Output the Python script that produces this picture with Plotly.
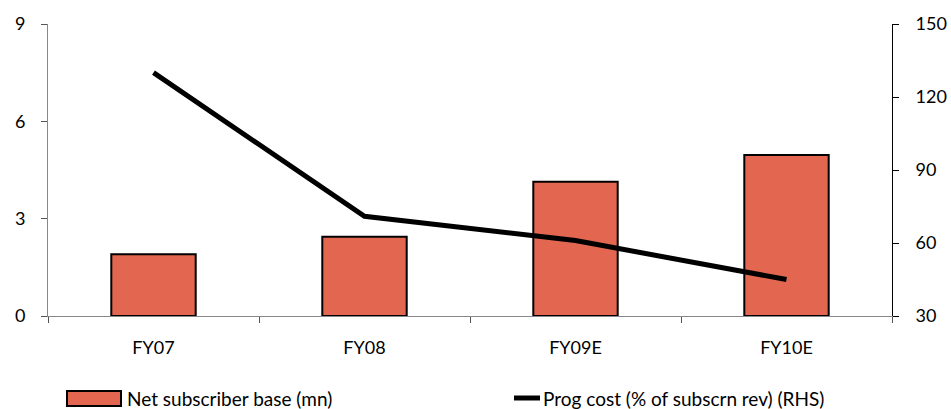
import plotly.graph_objects as go

categories = ["FY07", "FY08", "FY09E", "FY10E"]
subscribers_mn = [1.90, 2.44, 4.14, 4.96]
prog_cost_pct = [130, 71, 61, 45]
left_ticks = [0, 3, 6, 9]
right_ticks = [30, 60, 90, 120, 150]

BAR_COLOR = "#E36650"
FONT = "Lato"

fig = go.Figure()
fig.add_trace(go.Bar(
    x=categories, y=subscribers_mn, name="Net subscriber base (mn)",
    marker=dict(color=BAR_COLOR, line=dict(color="black", width=2)),
    width=0.40, showlegend=False,
))
fig.add_trace(go.Scatter(
    x=categories, y=prog_cost_pct, name="Prog cost (% of subscrn rev) (RHS)",
    mode="lines", line=dict(color="black", width=5), yaxis="y2", showlegend=False,
))

# legend keys drawn as paper-space shapes with text beside them
fig.add_shape(type="rect", xref="paper", yref="paper",
              x0=(67 - 48) / 844, x1=(121 - 48) / 844,
              y0=-(406 - 316) / 292, y1=-(391 - 316) / 292,
              fillcolor=BAR_COLOR, line=dict(color="black", width=2))
fig.add_annotation(text="Net subscriber base (mn)", xref="paper", yref="paper",
                   x=(125 - 48) / 844, y=-(398 - 316) / 292, xanchor="left", yanchor="middle",
                   showarrow=False, font=dict(family=FONT, size=19, color="black"))
fig.add_shape(type="line", xref="paper", yref="paper",
              x0=(514 - 48) / 844, x1=(540 - 48) / 844,
              y0=-(398 - 316) / 292, y1=-(398 - 316) / 292,
              line=dict(color="black", width=5))
fig.add_annotation(text="Prog cost (% of subscrn rev) (RHS)", xref="paper", yref="paper",
                   x=(541 - 48) / 844, y=-(398 - 316) / 292, xanchor="left", yanchor="middle",
                   showarrow=False, font=dict(family=FONT, size=19, color="black"))

fig.update_layout(
    width=951, height=409,
    margin=dict(l=48, r=59, t=24, b=93, autoexpand=False),
    paper_bgcolor="white", plot_bgcolor="white",
    font=dict(family=FONT, size=18, color="black"),
    showlegend=False,
    xaxis=dict(
        type="category", tickson="boundaries", ticks="outside", ticklen=6,
        tickcolor="#555", showline=True, linecolor="#888", linewidth=1,
        showgrid=False, ticklabelstandoff=15, range=[-0.5, 3.5],
        automargin=False,
    ),
    yaxis=dict(
        range=[0, 9], tickvals=left_ticks, ticks="outside", ticklen=6,
        tickcolor="#555", showline=True, linecolor="#888", linewidth=1,
        showgrid=False, zeroline=False, ticklabelstandoff=12, automargin=False,
    ),
    yaxis2=dict(
        range=[30, 150], tickvals=right_ticks, overlaying="y", side="right",
        ticks="outside", ticklen=6, tickcolor="black", showline=True,
        linecolor="black", linewidth=1, showgrid=False, zeroline=False,
        ticklabelstandoff=13, automargin=False,
    ),
)

fig.write_html("out.html")
